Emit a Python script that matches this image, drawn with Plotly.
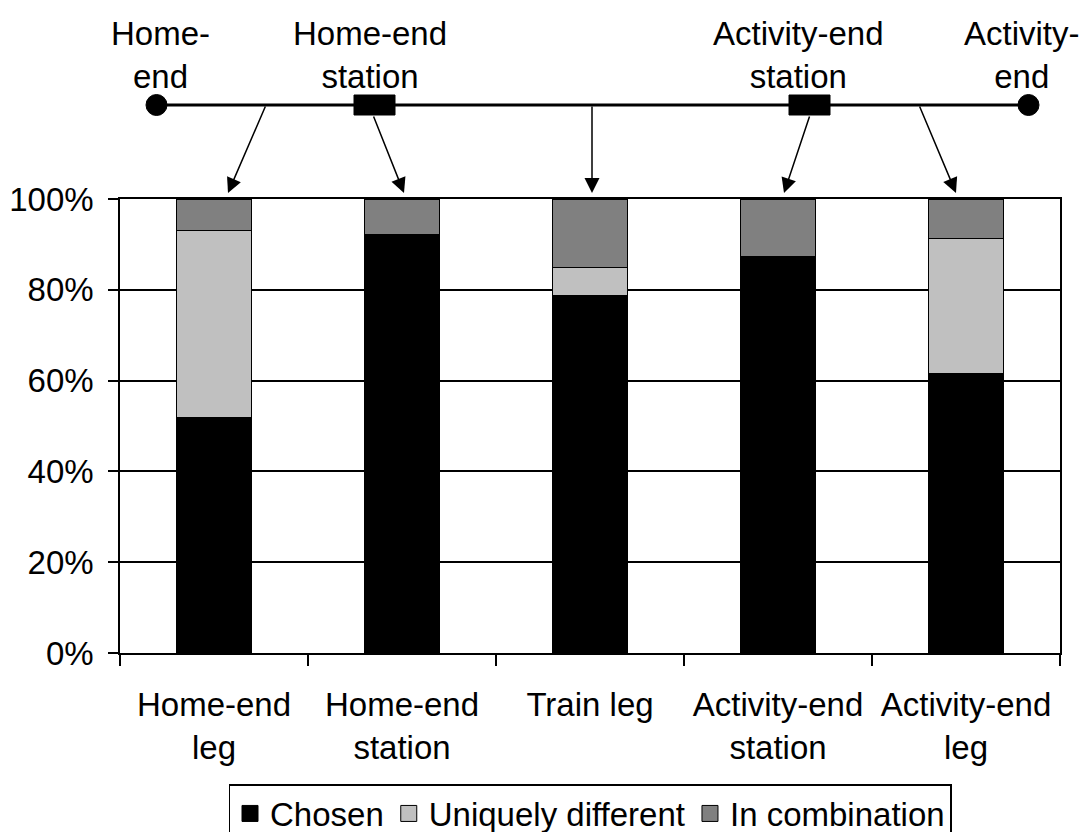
import plotly.graph_objects as go

categories = ["Home-end<br>leg", "Home-end<br>station", "Train leg", "Activity-end<br>station", "Activity-end<br>leg"]
chosen = [51.8, 92.1, 78.7, 87.3, 61.5]
uniquely_different = [41.3, 0.0, 6.2, 0.0, 29.9]
in_combination = [6.9, 7.9, 15.1, 12.7, 8.6]
series_names = ["Chosen", "Uniquely different", "In combination"]
series_colors = ["#000000", "#C0C0C0", "#808080"]
y_ticks = [0, 20, 40, 60, 80, 100]
y_tick_labels = ["0%", "20%", "40%", "60%", "80%", "100%"]

W, H = 1084, 832
L, R, T, B = 120, 1060, 199, 653
FONT = "Arial, Liberation Sans, sans-serif"
FS = 33


def X(px):
    return (px - L) / (R - L)


def Y(py):
    return (B - py) / (B - T)


fig = go.Figure()
for name, vals, col in zip(series_names, [chosen, uniquely_different, in_combination], series_colors):
    fig.add_trace(go.Bar(x=categories, y=vals, name=name, showlegend=False,
                         marker=dict(color=col, line=dict(color="#000000", width=1))))
# legend entries with square keys
for name, col in zip(series_names, series_colors):
    fig.add_trace(go.Scatter(x=[None], y=[None], mode="markers", name=name,
                             marker=dict(symbol="square", size=16, color=col,
                                         line=dict(color="#000000", width=1))))

shapes = []
shapes.append(dict(type="line", xref="paper", yref="paper", x0=X(156), x1=X(1028), y0=Y(105), y1=Y(105),
                   line=dict(color="black", width=3)))
for cx in [156.5, 1028.5]:
    shapes.append(dict(type="circle", xref="paper", yref="paper", x0=X(cx - 10.5), x1=X(cx + 10.5),
                       y0=Y(105 + 10.5), y1=Y(105 - 10.5), fillcolor="black", line=dict(color="black", width=1)))
for cx in [374.5, 809.5]:
    shapes.append(dict(type="rect", xref="paper", yref="paper", x0=X(cx - 20.5), x1=X(cx + 20.5),
                       y0=Y(115), y1=Y(95), fillcolor="black", line=dict(color="black", width=1)))

annotations = []
labels = [("Home-<br>end", 160), ("Home-end<br>station", 370), ("Activity-end<br>station", 798),
          ("Activity-<br>end", 1022)]
for txt, cx in labels:
    annotations.append(dict(text=txt, xref="paper", yref="paper", x=X(cx), y=Y(55), showarrow=False,
                            xanchor="center", yanchor="middle", font=dict(family=FONT, size=FS, color="black")))

arrows = [((266, 105), (228, 193)), ((373, 115), (404, 193)), ((592, 105), (592, 193)),
          ((810, 115), (784, 193)), ((919, 105), (956, 193))]
for (tx, ty), (hx, hy) in arrows:
    annotations.append(dict(text="", xref="paper", yref="paper", x=X(hx), y=Y(hy), ax=tx - hx, ay=ty - hy,
                            axref="pixel", ayref="pixel", showarrow=True, arrowhead=2, arrowsize=2,
                            arrowwidth=1.5, arrowcolor="black", standoff=0))

fig.update_layout(
    width=W, height=H, autosize=False,
    margin=dict(l=L, r=W - R, t=T, b=H - B, pad=0, autoexpand=False),
    barmode="stack", bargap=0.6,
    paper_bgcolor="white", plot_bgcolor="white",
    font=dict(family=FONT, size=FS, color="black"),
    shapes=shapes, annotations=annotations,
    legend=dict(orientation="h", x=X(590), xanchor="center", y=Y(784), yanchor="top",
                bordercolor="black", borderwidth=1.5, bgcolor="white",
                font=dict(family=FONT, size=FS, color="black"), traceorder="normal",
                itemsizing="trace", itemwidth=30, tracegroupgap=0),
)
fig.update_xaxes(showline=True, linecolor="black", linewidth=1.5, mirror=True, ticks="outside",
                 tickson="boundaries", ticklen=11, tickwidth=1.5, tickcolor="black", showgrid=False,
                 ticklabelstandoff=22, automargin=False, tickfont=dict(family=FONT, size=FS, color="black"))
fig.update_yaxes(range=[0, 100], tickvals=y_ticks, ticktext=y_tick_labels, showline=True, linecolor="black",
                 linewidth=1.5, mirror=True, ticks="outside", ticklen=10, tickwidth=1.5, tickcolor="black",
                 showgrid=True, gridcolor="black", gridwidth=1.5, zeroline=False, ticklabelstandoff=8,
                 automargin=False, tickfont=dict(family=FONT, size=FS, color="black"))

fig.write_html("out.html", config={"displayModeBar": False},
               post_script="document.body.style.margin='0';")
